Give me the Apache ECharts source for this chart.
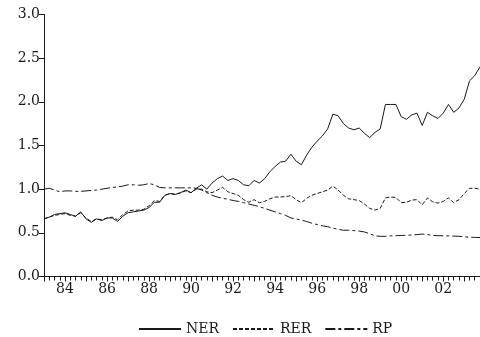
<!DOCTYPE html>
<html>
<head>
<meta charset="utf-8">
<script src="https://cdn.jsdelivr.net/npm/echarts@6/dist/echarts.min.js"></script>
<style>
  html, body { margin: 0; padding: 0; background: #fff; }
  #chart { width: 480px; height: 337px; }
</style>
</head>
<body>
<div id="chart"></div>
<script>
// quarterly data, 1983Q1 onward
const startYear = 1983;

const ner = [
  0.66, 0.68, 0.71, 0.72, 0.73, 0.71, 0.69, 0.74, 0.66, 0.62,
  0.66, 0.64, 0.67, 0.67, 0.63, 0.69, 0.73, 0.74, 0.75, 0.76,
  0.79, 0.85, 0.85, 0.93, 0.95, 0.94, 0.96, 0.99, 0.96, 1.01,
  1.05, 1.00, 1.07, 1.12, 1.15, 1.10, 1.12, 1.10, 1.05, 1.04,
  1.10, 1.07, 1.12, 1.20, 1.26, 1.31, 1.32, 1.40, 1.32, 1.28,
  1.39, 1.48, 1.55, 1.61, 1.69, 1.86, 1.84, 1.75, 1.70, 1.68,
  1.70, 1.64, 1.59, 1.65, 1.69, 1.97, 1.97, 1.97, 1.83, 1.80,
  1.85, 1.87, 1.73, 1.88, 1.84, 1.81, 1.87, 1.97, 1.88, 1.93,
  2.03, 2.24, 2.30, 2.40
];

const rer = [
  0.66, 0.68, 0.70, 0.71, 0.72, 0.70, 0.69, 0.73, 0.67, 0.63,
  0.66, 0.65, 0.67, 0.68, 0.65, 0.71, 0.75, 0.76, 0.76, 0.77,
  0.81, 0.87, 0.86, 0.93, 0.95, 0.94, 0.96, 0.98, 0.96, 1.00,
  1.00, 0.97, 0.96, 0.99, 1.02, 0.97, 0.95, 0.93, 0.88, 0.85,
  0.88, 0.845, 0.86, 0.89, 0.91, 0.91, 0.915, 0.925, 0.88, 0.845,
  0.895, 0.93, 0.95, 0.97, 0.99, 1.035, 0.99, 0.93, 0.89, 0.88,
  0.87, 0.83, 0.78, 0.76, 0.78, 0.90, 0.91, 0.905, 0.845, 0.85,
  0.875, 0.88, 0.82, 0.90, 0.855, 0.84, 0.86, 0.90, 0.845, 0.88,
  0.95, 1.01, 1.01, 1.00
];

const rp = [
  1.00, 1.01, 0.99, 0.97, 0.98, 0.98, 0.975, 0.975, 0.98, 0.985,
  0.99, 1.00, 1.01, 1.02, 1.025, 1.035, 1.05, 1.05, 1.045, 1.05,
  1.065, 1.05, 1.02, 1.015, 1.015, 1.015, 1.015, 1.015, 1.015, 1.01,
  0.99, 0.96, 0.93, 0.91, 0.895, 0.885, 0.87, 0.86, 0.845, 0.83,
  0.815, 0.80, 0.78, 0.76, 0.74, 0.72, 0.70, 0.67, 0.66, 0.645,
  0.63, 0.61, 0.595, 0.58, 0.57, 0.555, 0.54, 0.53, 0.53, 0.525,
  0.52, 0.51, 0.49, 0.465, 0.46, 0.46, 0.465, 0.467, 0.47, 0.472,
  0.475, 0.48, 0.486, 0.48, 0.47, 0.467, 0.466, 0.465, 0.463, 0.46,
  0.455, 0.45, 0.448, 0.445
];

const seriesNames = ["NER", "RER", "RP"];
const yTicks = [0, 0.5, 1.0, 1.5, 2.0, 2.5, 3.0];

const toPairs = (arr) => arr.map((v, i) => [startYear + i / 4, v]);
const lastX = startYear + (ner.length - 1) / 4;

// wide serif, closest to the stretched Times look of the original
const font = "'DejaVu Serif', 'Liberation Serif', serif";
const ink = "#1a1a1a";

const chart = echarts.init(document.getElementById("chart"), null, { renderer: "canvas" });

const option = {
  animation: false,
  backgroundColor: "#fff",
  grid: {
    left: 44,
    top: 14.5,
    width: 439,
    height: 262,
  },
  legend: {
    data: seriesNames,
    left: 133,
    top: 317,
    itemWidth: 42,
    itemHeight: 10,
    itemGap: 13,
    // hide the point marker, keep only the line sample
    itemStyle: { opacity: 0 },
    textStyle: { fontFamily: font, fontSize: 14, color: ink },
  },
  xAxis: {
    type: "value",
    min: startYear,
    max: lastX,
    interval: 1,
    axisLine: { lineStyle: { color: ink, width: 1 } },
    axisTick: { show: true, length: 5, lineStyle: { color: ink } },
    minorTick: { show: true, splitNumber: 4, length: 4, lineStyle: { color: ink } },
    splitLine: { show: false },
    axisLabel: {
      fontFamily: font,
      fontSize: 14,
      color: ink,
      margin: 6,
      showMaxLabel: false,
      formatter: (v) => (Number.isInteger(v) && v % 2 === 0 ? String(v).slice(2) : ""),
    },
  },
  yAxis: {
    type: "value",
    min: yTicks[0],
    max: yTicks[yTicks.length - 1],
    interval: 0.5,
    axisLine: { show: true, lineStyle: { color: ink, width: 1 } },
    axisTick: { show: true, length: 5, lineStyle: { color: ink } },
    splitLine: { show: false },
    axisLabel: {
      fontFamily: font,
      fontSize: 14,
      color: ink,
      margin: 4,
      formatter: (v) => v.toFixed(1),
    },
  },
  series: [
    {
      name: seriesNames[0],
      type: "line",
      data: toPairs(ner),
      symbol: "none",
      lineStyle: { color: ink, width: 1, type: "solid" },
      itemStyle: { color: ink },
    },
    {
      name: seriesNames[1],
      type: "line",
      data: toPairs(rer),
      symbol: "none",
      lineStyle: { color: ink, width: 1, type: [4, 2] },
      itemStyle: { color: ink },
    },
    {
      name: seriesNames[2],
      type: "line",
      data: toPairs(rp),
      symbol: "none",
      lineStyle: { color: ink, width: 1, type: [10, 3, 3, 3] },
      itemStyle: { color: ink },
    },
  ],
};

chart.setOption(option);
</script>
</body>
</html>
